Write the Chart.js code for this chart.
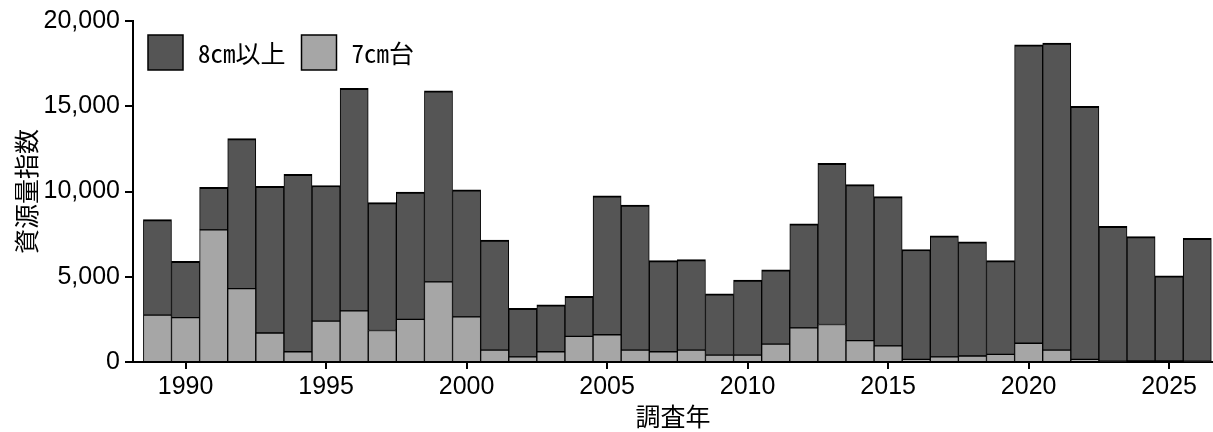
<!DOCTYPE html>
<html><head><meta charset="utf-8">
<script src="https://cdn.jsdelivr.net/npm/chart.js@4/dist/chart.umd.min.js"></script>
<style>html,body{margin:0;padding:0;background:#fff;overflow:hidden}#wrap{width:1213px;height:432px;position:relative}</style>
</head><body><div id="wrap"><canvas id="c" width="1213" height="432"></canvas></div>
<script>
const years = [1989,1990,1991,1992,1993,1994,1995,1996,1997,1998,
               1999,2000,2001,2002,2003,2004,2005,2006,2007,2008,
               2009,2010,2011,2012,2013,2014,2015,2016,2017,2018,
               2019,2020,2021,2022,2023,2024,2025,2026];
const size7cm = [2750,2600,7750,4300,1700,600,2400,3000,1850,2500,
                 4700,2650,700,300,600,1500,1600,700,600,700,
                 400,400,1050,2000,2200,1250,950,150,300,350,
                 450,1100,700,150,50,0,0,50];
const size8cmUp = [5600,3300,2500,8800,8600,10400,7950,13050,7500,7470,
                   11200,7450,6450,2850,2750,2350,8150,8500,5350,5300,
                   3600,4400,4350,6100,9450,9150,8750,6450,7100,6700,
                   5500,17500,18000,14850,7900,7350,5050,7200];
const xTickValues = [1990,1995,2000,2005,2010,2015,2020,2025];
const yTickValues = [0,5000,10000,15000,20000];
const label8 = '8cm以上';
const label7 = '7cm台';
const xTitle = '調査年';
const yTitle = '資源量指数';

const numFont = {family:"'Liberation Sans', Arial, sans-serif", size:25};
const cjkFont = "'Noto Sans CJK JP', 'Noto Sans', sans-serif";
const monoFont = "'Noto Sans Mono CJK JP', 'Noto Sans CJK JP', monospace";

const legendPlugin = {
  id:'insideLegend',
  afterDraw(chart){
    const ctx = chart.ctx, ca = chart.chartArea;
    const items = chart.data.datasets.slice().reverse();
    let x = ca.left + 15;
    const y = ca.top + 14, s = 35;
    ctx.save();
    ctx.font = "25px " + monoFont;
    ctx.textBaseline = 'middle';
    ctx.textAlign = 'left';
    items.forEach(ds => {
      ctx.fillStyle = ds.backgroundColor;
      ctx.fillRect(x, y, s, s);
      ctx.lineWidth = 1.5;
      ctx.strokeStyle = '#000';
      ctx.strokeRect(x, y, s, s);
      ctx.fillStyle = '#000';
      ctx.fillText(ds.label, x + s + 15, y + s/2 + 1);
      x += s + 15 + ctx.measureText(ds.label).width + 16;
    });
    ctx.restore();
  }
};

new Chart(document.getElementById('c'), {
  type:'bar',
  data:{
    datasets:[
      {label:label7, data:years.map((yr,i)=>({x:yr,y:size7cm[i]})),
       backgroundColor:'#a6a6a6', borderColor:'#000',
       borderWidth:{top:1,left:1,right:1,bottom:0}, borderSkipped:false,
       barPercentage:1, categoryPercentage:1},
      {label:label8, data:years.map((yr,i)=>({x:yr,y:size8cmUp[i]})),
       backgroundColor:'#555555', borderColor:'#000',
       borderWidth:{top:2,left:1,right:1,bottom:1}, borderSkipped:false,
       barPercentage:1, categoryPercentage:1}
    ]
  },
  options:{
    responsive:false, animation:false,
    layout:{padding:{top:21,left:0,right:0,bottom:0}},
    plugins:{legend:{display:false}, tooltip:{enabled:false}},
    scales:{
      x:{type:'linear', min:1988.13, max:2026.56, stacked:true, offset:false,
         grid:{display:true, offset:false, drawOnChartArea:false, drawTicks:true, tickLength:7, color:'#000', lineWidth:2},
         border:{display:true, color:'#000', width:2},
         ticks:{font:numFont, color:'#000', padding:3, maxRotation:0, autoSkip:false, callback:v=>String(v)},
         afterBuildTicks:s=>{s.ticks = xTickValues.map(v=>({value:v}));},
         afterFit:s=>{s.height = 70;},
         title:{display:true, text:xTitle, color:'#000', font:{family:cjkFont, size:25, lineHeight:1.2}, padding:{top:0,bottom:1}}
      },
      y:{type:'linear', min:0, max:20000, stacked:true,
         grid:{display:true, offset:false, drawOnChartArea:false, drawTicks:true, tickLength:8, color:'#000', lineWidth:2},
         border:{display:true, color:'#000', width:2},
         ticks:{font:numFont, color:'#000', padding:5, callback:v=>v.toLocaleString('en-US')},
         afterBuildTicks:s=>{s.ticks = yTickValues.map(v=>({value:v}));},
         afterFit:s=>{s.width = 133;},
         title:{display:true, text:yTitle, color:'#000', font:{family:cjkFont, size:25, lineHeight:1.2}, padding:{top:11,bottom:0}}
      }
    }
  },
  plugins:[legendPlugin]
});
</script></body></html>
